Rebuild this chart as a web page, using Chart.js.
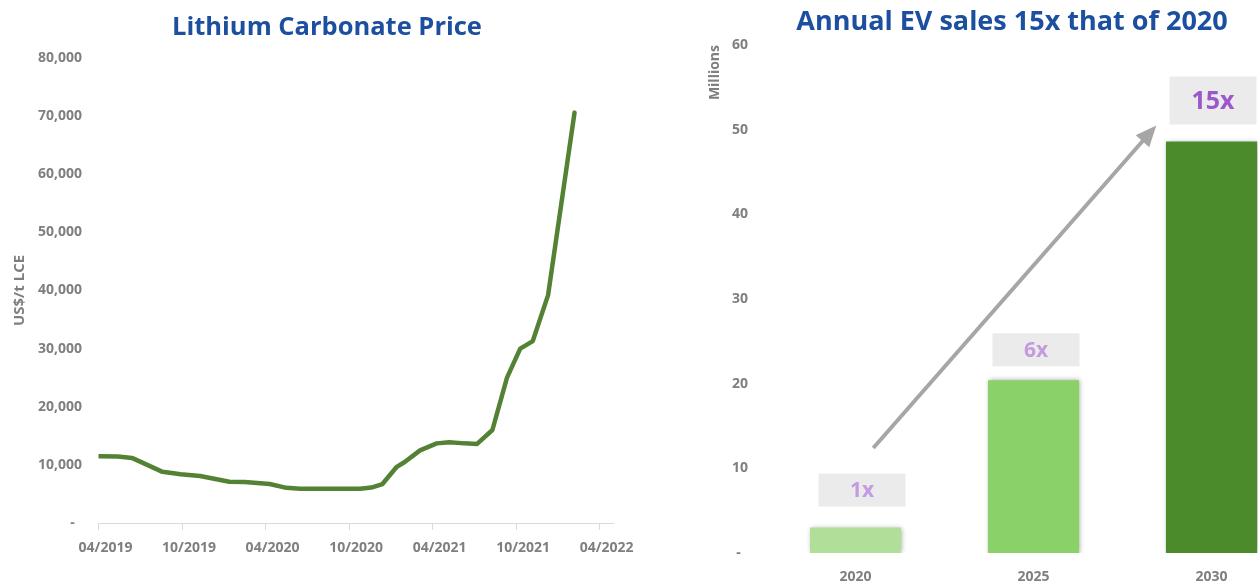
<!DOCTYPE html>
<html><head><meta charset="utf-8">
<script src="https://cdn.jsdelivr.net/npm/chart.js@4"></script>
<style>
html,body{margin:0;padding:0;background:#fff;overflow:hidden;width:1258px;height:582px;}
#left{position:absolute;left:0;top:0;width:640px;height:582px;}
#right{position:absolute;left:690px;top:0;width:620px;height:582px;}
</style></head><body>
<div id="left"><canvas id="c1" width="640" height="582"></canvas></div>
<div id="right"><canvas id="c2" width="620" height="582"></canvas></div>
<script>
// ---- Left chart data: months after 04/2019, price US$/t LCE
const priceMonths = [0, 1.4, 2.4, 4.6, 5.9, 7.3, 9.4, 10.5, 12.3, 13.5, 14.5, 18.8, 19.6, 20.4, 21.4, 22.0, 23.1, 24.3, 25.2, 26.3, 27.2, 28.3, 29.35, 30.3, 31.2, 32.3, 34.2];
const priceValues = [11500, 11450, 11200, 8800, 8400, 8100, 7100, 7050, 6700, 6050, 5900, 5900, 6100, 6700, 9600, 10500, 12500, 13700, 13900, 13700, 13600, 16000, 25000, 30000, 31300, 39200, 70600];
const priceXTickLabels = ['04/2019', '10/2019', '04/2020', '10/2020', '04/2021', '10/2021', '04/2022'];
const priceYTickLabels = ['-  ', '10,000', '20,000', '30,000', '40,000', '50,000', '60,000', '70,000', '80,000'];

// ---- Right chart data
const evYears = ['2020', '2025', '2030'];
const evSales = [3.0, 20.4, 48.6];
const evMultiples = ['1x', '6x', '15x'];
const evYTickLabels = ['-  ', '10', '20', '30', '40', '50', '60'];

const GREY = '#7f7f7f';
const FONT = '"Open Sans", "Noto Sans", sans-serif';

const headline = {
  id: 'headline',
  afterDraw(chart, args, o) {
    const ctx = chart.ctx;
    ctx.save();
    ctx.font = o.font;
    ctx.fillStyle = o.color;
    ctx.textAlign = 'center';
    ctx.textBaseline = 'middle';
    ctx.fillText(o.text, o.x, o.y);
    ctx.restore();
  }
};

new Chart(document.getElementById('c1'), {
  type: 'line',
  data: {
    datasets: [{
      data: priceMonths.map((m, i) => ({x: m, y: priceValues[i]})),
      borderColor: '#548235',
      borderWidth: 4.5,
      pointRadius: 0,
      tension: 0,
      borderJoinStyle: 'round',
      borderCapStyle: 'round',
      fill: false
    }]
  },
  plugins: [headline],
  options: {
    responsive: false,
    animation: false,
    layout: {padding: {top: 58, right: 26.5, left: 0, bottom: 0}},
    plugins: {
      legend: {display: false},
      tooltip: {enabled: false},
      headline: {text: 'Lithium Carbonate Price', x: 327, y: 28, font: 'bold 25.5px ' + FONT, color: '#1c4f9f'}
    },
    scales: {
      x: {
        type: 'linear', min: 0, max: 37,
        afterFit(s) { s.height = 59; },
        grid: {drawOnChartArea: false, drawTicks: true, tickLength: 7, color: '#d9d9d9'},
        border: {display: true, color: '#d9d9d9', width: 1},
        ticks: {
          stepSize: 6, includeBounds: false, padding: 10, labelOffset: 7,
          color: GREY, font: {family: FONT, size: 14, weight: 'bold'},
          maxRotation: 0, autoSkip: false,
          callback: (v) => priceXTickLabels[Math.round(v / 6)]
        }
      },
      y: {
        min: 0, max: 80000,
        afterFit(s) { s.width = 98.5; },
        grid: {display: false, drawTicks: false},
        border: {display: false},
        title: {display: true, text: 'US$/t LCE', color: GREY, font: {family: FONT, size: 15, weight: 'bold'}, padding: {top: 11, bottom: 0}},
        ticks: {
          stepSize: 10000, padding: 16.5,
          color: GREY, font: {family: FONT, size: 14, weight: 'bold'},
          callback: (v, i) => priceYTickLabels[i]
        }
      }
    }
  }
});

const barShadow = {
  id: 'barShadow',
  beforeDatasetsDraw(chart) {
    const c = chart.ctx;
    c.save();
    c.shadowColor = 'rgba(0,0,0,0.35)';
    c.shadowBlur = 5;
    c.shadowOffsetX = 1;
    c.shadowOffsetY = 0;
  },
  afterDatasetsDraw(chart) { chart.ctx.restore(); }
};

const arrow = {
  id: 'arrow',
  afterDraw(chart, args, o) {
    const xs = chart.scales.x, ys = chart.scales.y, ctx = chart.ctx;
    const x1 = xs.getPixelForValue(o.from[0]), y1 = ys.getPixelForValue(o.from[1]);
    const x2 = xs.getPixelForValue(o.to[0]), y2 = ys.getPixelForValue(o.to[1]);
    const ang = Math.atan2(y2 - y1, x2 - x1);
    const hl = o.headLength, hw = o.headWidth;
    const bx = x2 - hl * Math.cos(ang), by = y2 - hl * Math.sin(ang);
    ctx.save();
    ctx.strokeStyle = o.color; ctx.fillStyle = o.color; ctx.lineWidth = o.width;
    ctx.beginPath(); ctx.moveTo(x1, y1); ctx.lineTo(bx + 2 * Math.cos(ang), by + 2 * Math.sin(ang)); ctx.stroke();
    ctx.beginPath();
    ctx.moveTo(x2, y2);
    ctx.lineTo(bx + hw * Math.sin(ang), by - hw * Math.cos(ang));
    ctx.lineTo(bx - hw * Math.sin(ang), by + hw * Math.cos(ang));
    ctx.closePath(); ctx.fill();
    ctx.restore();
  }
};

const multiples = {
  id: 'multiples',
  afterDraw(chart, args, o) {
    const meta = chart.getDatasetMeta(0), ctx = chart.ctx;
    ctx.save();
    meta.data.forEach((bar, i) => {
      const w = o.boxWidth, h = o.boxHeights[i];
      const cx = bar.x + o.dx[i];
      const bottom = bar.y - o.gaps[i];
      ctx.fillStyle = o.boxColor;
      ctx.fillRect(cx - w / 2, bottom - h, w, h);
      ctx.fillStyle = o.colors[i];
      ctx.font = 'bold ' + o.sizes[i] + 'px ' + FONT;
      ctx.textAlign = 'center';
      ctx.textBaseline = 'middle';
      ctx.fillText(evMultiples[i], cx, bottom - h / 2 + 1);
    });
    ctx.restore();
  }
};

new Chart(document.getElementById('c2'), {
  type: 'bar',
  data: {
    labels: evYears,
    datasets: [{
      data: evSales,
      backgroundColor: ['#b1df99', '#8bd16a', '#4b8b2b'],
      borderWidth: 0,
      barPercentage: 0.512,
      categoryPercentage: 1
    }]
  },
  plugins: [barShadow, arrow, multiples, headline],
  options: {
    responsive: false,
    animation: false,
    layout: {padding: {top: 45, right: 9.5, left: 0, bottom: 0}},
    plugins: {
      legend: {display: false},
      tooltip: {enabled: false},
      headline: {text: 'Annual EV sales 15x that of 2020', x: 322, y: 22, font: 'bold 27px ' + FONT, color: '#1c4f9f'},
      arrow: {from: [0.1, 12.4], to: [1.69, 50.5], color: '#a6a6a6', width: 4, headLength: 21, headWidth: 9},
      multiples: {boxWidth: 87, boxHeights: [33, 33, 48], dx: [6.5, 2.5, 1.5], gaps: [21, 14, 17],
        sizes: [21, 21, 25], colors: ['#c39be0', '#c39be0', '#9b57cc'], boxColor: '#ebebeb'}
    },
    scales: {
      x: {
        offset: true,
        afterFit(s) { s.height = 29; },
        grid: {display: false, drawTicks: false},
        border: {display: false},
        ticks: {padding: 16, color: GREY, font: {family: FONT, size: 14, weight: 'bold'}}
      },
      y: {
        min: 0, max: 60,
        afterFit(s) { s.width = 76.5; },
        grid: {display: false, drawTicks: false},
        border: {display: false},
        title: {display: true, text: 'Millions', align: 'end', color: GREY, font: {family: FONT, size: 14, weight: 'bold'}, padding: {top: 17, bottom: 0}},
        ticks: {
          stepSize: 10, padding: 18.5,
          color: GREY, font: {family: FONT, size: 14, weight: 'bold'},
          callback: (v, i) => evYTickLabels[i]
        }
      }
    }
  }
});
</script>
</body></html>
